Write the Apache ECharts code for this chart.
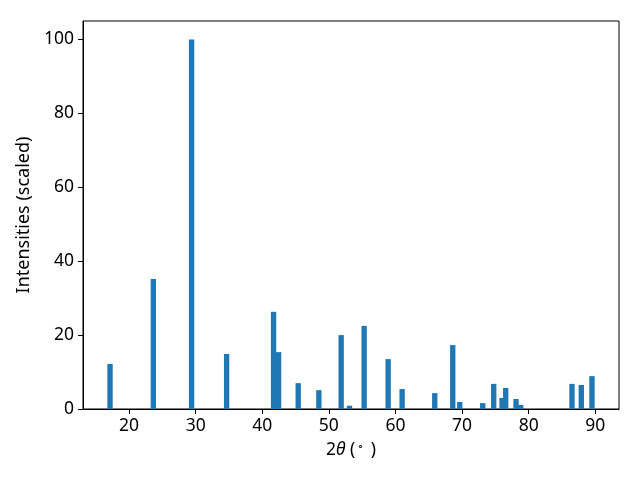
<!DOCTYPE html>
<html><head><meta charset="utf-8">
<script src="https://cdn.jsdelivr.net/npm/echarts@6/dist/echarts.min.js"></script>
<style>html,body{margin:0;padding:0;background:#fff}#c{width:640px;height:480px}</style>
</head><body><div id="c"></div>
<script>
const twoTheta = [17.15, 23.65, 29.39, 34.65, 41.7, 42.46, 45.4, 48.5, 51.85, 53.1, 55.3, 58.9, 61.0, 65.9, 68.6, 69.65, 73.1, 74.75, 76.0, 76.55, 78.1, 78.8, 86.5, 87.9, 89.5];
const intensities = [12.2, 35.2, 100, 14.9, 26.3, 15.4, 7.0, 5.1, 20.0, 0.9, 22.5, 13.5, 5.4, 4.3, 17.3, 1.9, 1.6, 6.8, 3.0, 5.7, 2.7, 1.1, 6.8, 6.5, 8.9];
const xTicks = [20, 30, 40, 50, 60, 70, 80, 90];
const yTicks = [0, 20, 40, 60, 80, 100];
const barWidth = 0.8;

const data = twoTheta.map((x, i) => [x, intensities[i]]);
const font = 'Noto Sans';
const fs = 17.5;
const chart = echarts.init(document.getElementById('c'));
chart.setOption({
  animation: false,
  grid: {left: 83, right: 21, top: 21, bottom: 71, show: true, borderColor: '#000', borderWidth: 1, backgroundColor: 'transparent'},
  xAxis: {
    type: 'value', min: 13.09, max: 93.56,
    splitLine: {show: false},
    axisLine: {show: true, onZero: false, lineStyle: {color: '#000', width: 1}},
    axisTick: {show: true, length: 5, customValues: xTicks, lineStyle: {color: '#000'}},
    axisLabel: {customValues: xTicks, margin: 8, color: '#000', fontFamily: font, fontSize: fs},
    name: '{n|2}{i|θ}{n| (}{s|∘}{n| )}',
    nameLocation: 'middle', nameGap: 32,
    nameTextStyle: {
      rich: {
        n: {fontFamily: font, fontSize: fs, color: '#000'},
        i: {fontFamily: font, fontSize: fs, fontStyle: 'italic', color: '#000'},
        s: {fontFamily: font, fontSize: 11, color: '#000', verticalAlign: 'top', padding: [0, 2, 6, 2]}
      }
    }
  },
  yAxis: {
    type: 'value', min: 0, max: 105,
    splitLine: {show: false},
    axisLine: {show: true, lineStyle: {color: '#000', width: 1}},
    axisTick: {show: true, length: 5, customValues: yTicks, lineStyle: {color: '#000'}},
    axisLabel: {customValues: yTicks, margin: 9, color: '#000', fontFamily: font, fontSize: fs},
    name: 'Intensities (scaled)', nameLocation: 'middle', nameGap: 45,
    nameTextStyle: {fontFamily: font, fontSize: 18, color: '#000'}
  },
  series: [{
    type: 'custom',
    data: data,
    encode: {x: 0, y: 1},
    clip: true,
    renderItem: function (params, api) {
      const x = api.value(0), y = api.value(1);
      const p1 = api.coord([x - barWidth / 2, y]);
      const p2 = api.coord([x + barWidth / 2, 0]);
      return {
        type: 'rect',
        shape: {x: p1[0], y: p1[1], width: p2[0] - p1[0], height: p2[1] - p1[1]},
        style: {fill: '#1f77b4'}
      };
    }
  }]
});
</script></body></html>
